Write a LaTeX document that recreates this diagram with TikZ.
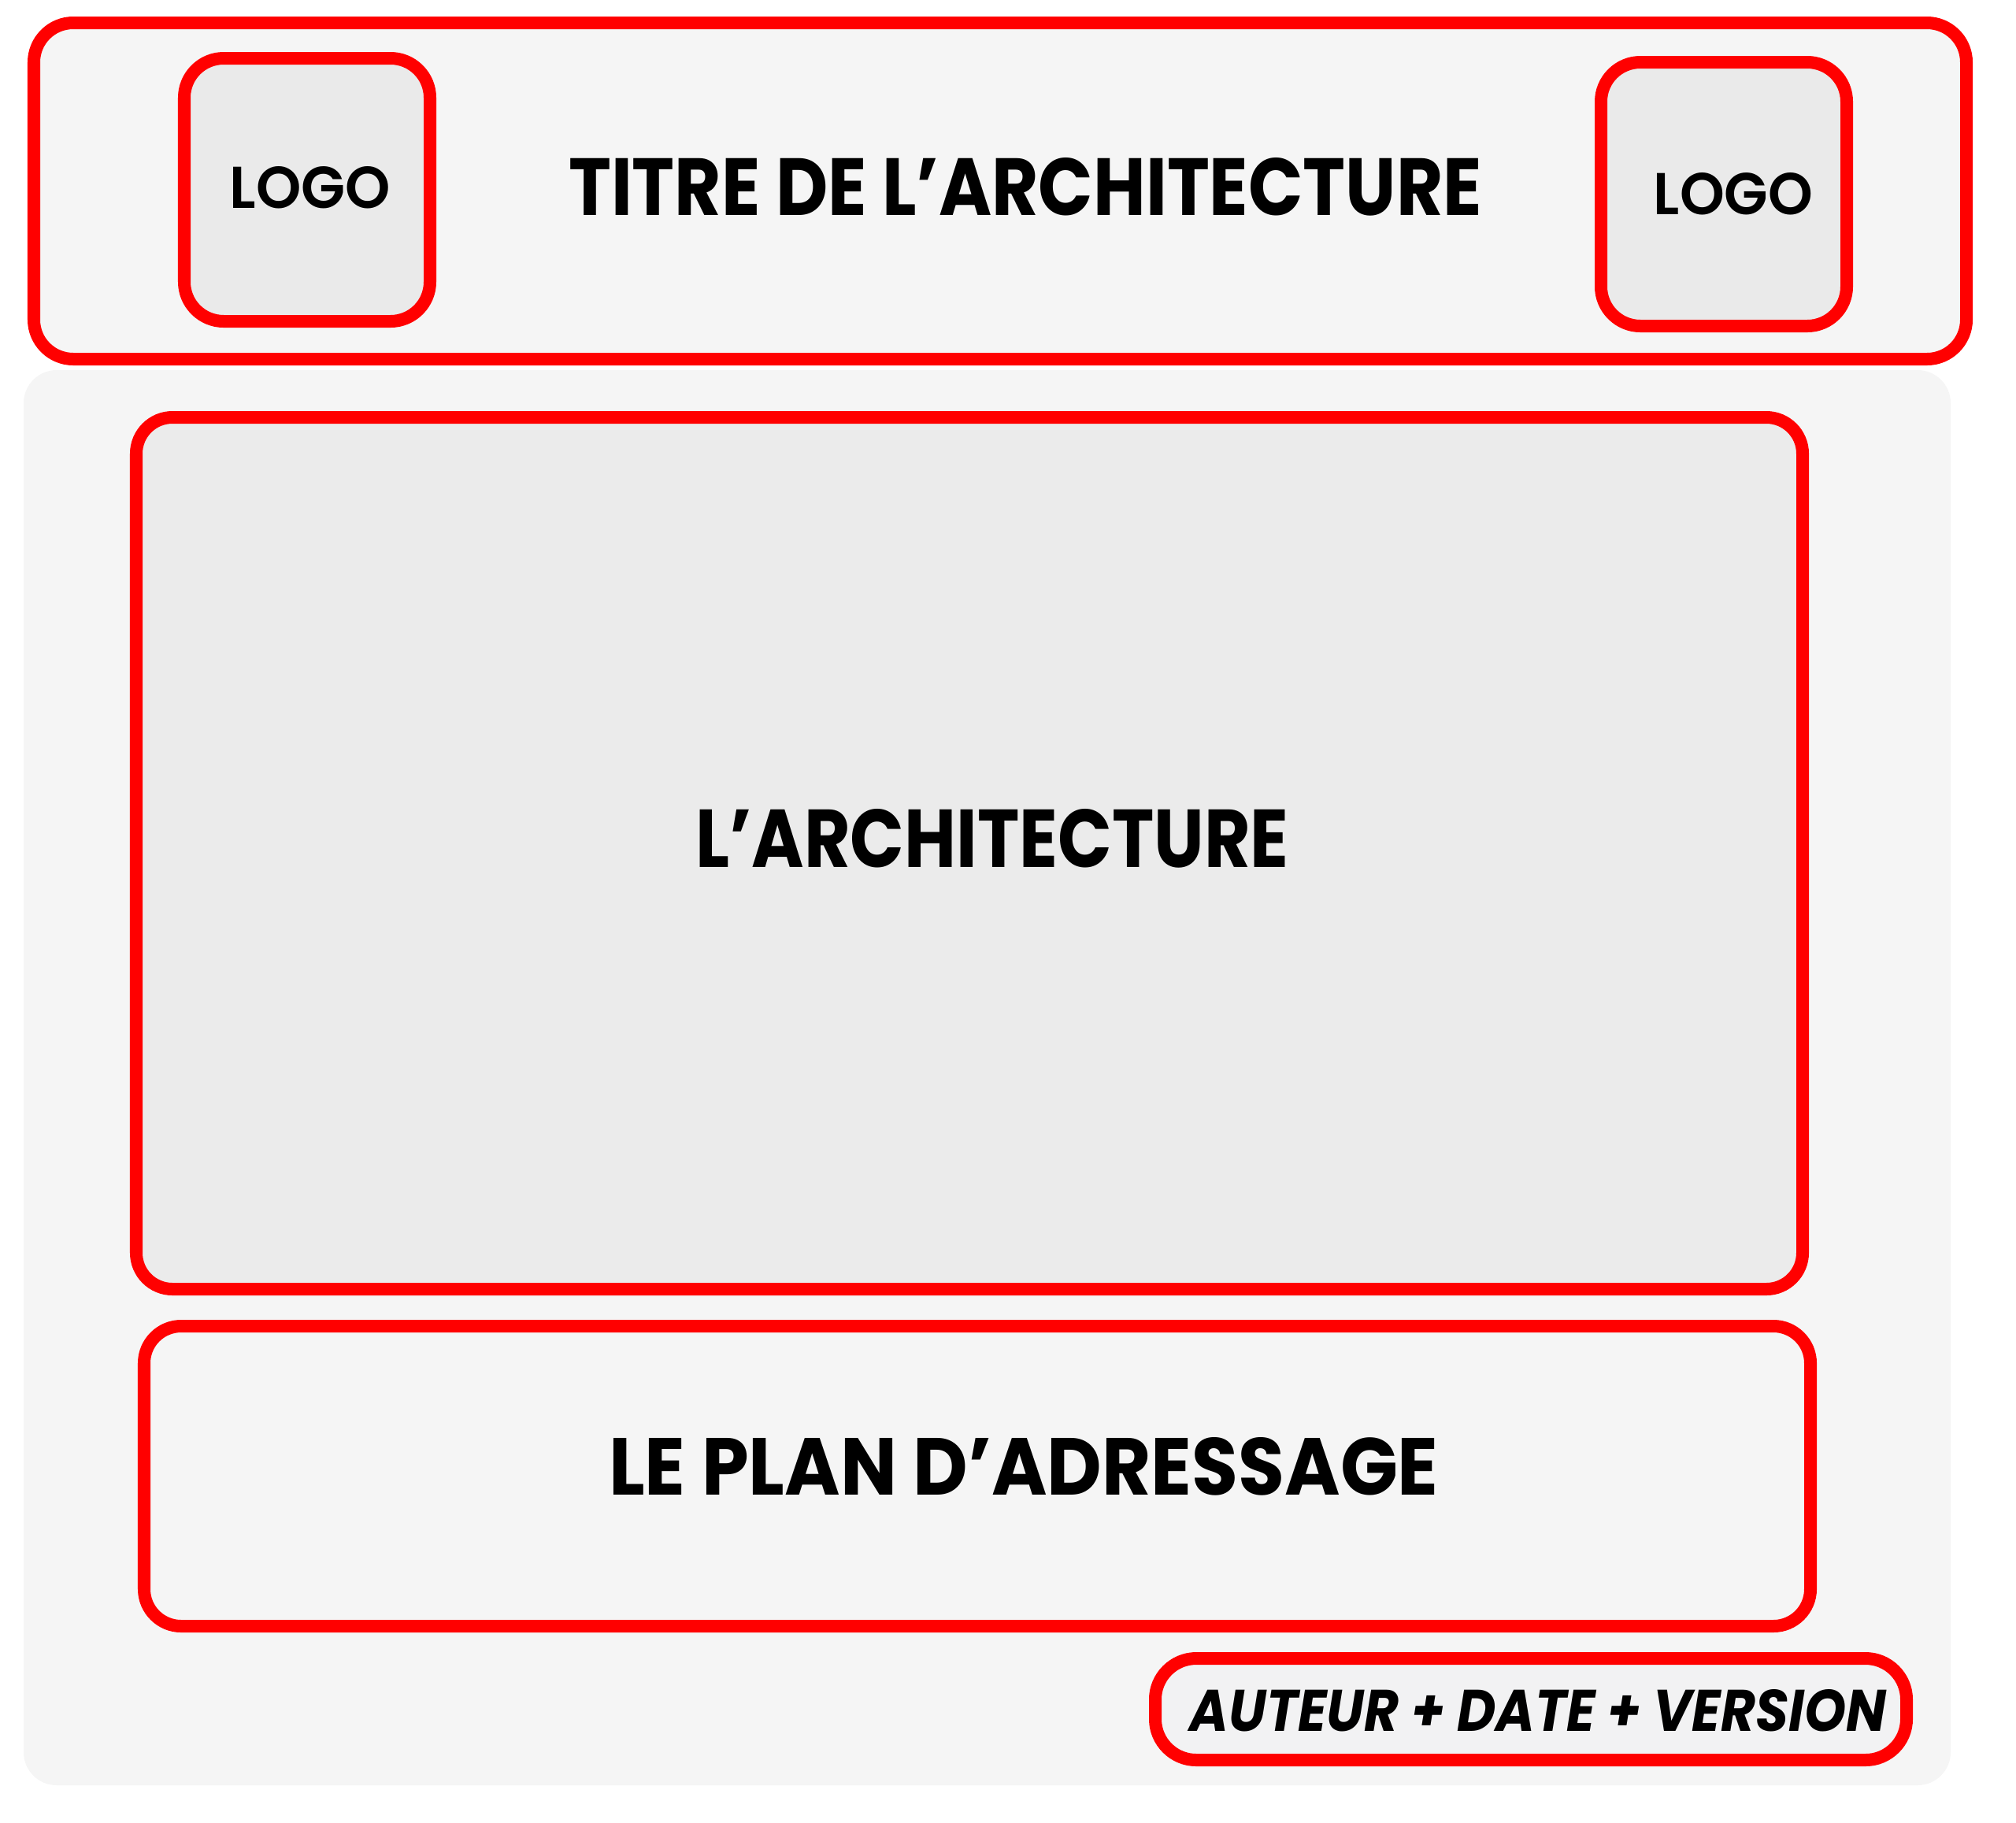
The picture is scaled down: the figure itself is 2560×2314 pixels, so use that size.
\documentclass[tikz,border=0pt]{standalone}
\usepackage{fontspec}
\setmainfont{Poppins}
\newfontfamily\semib{Poppins SemiBold}
\usepackage{graphicx}
\definecolor{boxred}{HTML}{FF0000}
\definecolor{panel}{HTML}{F5F5F5}
\definecolor{logofill}{HTML}{EAEAEA}
\definecolor{archfill}{HTML}{EBEBEB}
\definecolor{authfill}{HTML}{F2F2F3}
\begin{document}
\begin{tikzpicture}[x=0.01cm,y=-0.01cm,
  frame/.style={draw=boxred, line width=0.16cm},
  lbl/.style={inner sep=0pt, text=black, font=\bfseries}]
\fill[white] (0,0) rectangle (2560,2314);
\useasboundingbox (0,0) rectangle (2560,2314);
% background panel
\fill[panel, rounded corners=0.42cm] (30,470) rectangle (2477,2267);
% header
\draw[frame, fill=panel, rounded corners=0.5cm] (43,29) rectangle (2497,456);
\draw[frame, fill=logofill, rounded corners=0.5cm] (234,74) rectangle (546,408);
\draw[frame, fill=logofill, rounded corners=0.5cm] (2033,79) rectangle (2345,414);
% architecture
\draw[frame, fill=archfill, rounded corners=0.46cm] (173,530) rectangle (2289,1637);
% plan
\draw[frame, fill=panel, rounded corners=0.47cm] (183,1684) rectangle (2299,2065);
% author
\draw[frame, fill=authfill, rounded corners=0.52cm] (1467,2106) rectangle (2421,2235);
% texts
\node[lbl, font=\semib] (logoL) at (394,238) {\resizebox{2.04cm}{0.53cm}{LOGO}};
\node[lbl, font=\semib] (logoR) at (2201,246) {\resizebox{2.02cm}{0.53cm}{LOGO}};
\node[lbl] (title) at (1302,237) {\resizebox{11.59cm}{0.73cm}{TITRE DE L’ARCHITECTURE}};
\node[lbl] (arch) at (1260,1065) {\resizebox{7.53cm}{0.74cm}{L’ARCHITECTURE}};
\node[lbl] (plan) at (1300,1862) {\resizebox{10.53cm}{0.73cm}{LE PLAN D’ADRESSAGE}};
\node[lbl, font=\bfseries\itshape] (author) at (1953,2172) {\resizebox{8.84cm}{0.53cm}{AUTEUR + DATE + VERSION}};
\end{tikzpicture}
\end{document}
